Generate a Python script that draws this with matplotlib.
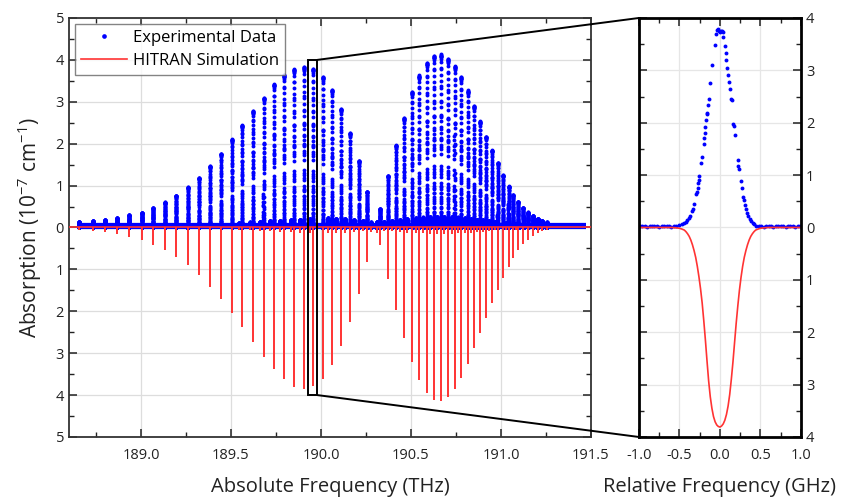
import matplotlib

matplotlib.use("Agg")
import matplotlib.pyplot as plt
import numpy as np
from matplotlib.patches import ConnectionPatch, Rectangle
from matplotlib.ticker import FuncFormatter, MultipleLocator

plt.rcParams["font.family"] = ["Open Sans", "DejaVu Sans"]
plt.rcParams["mathtext.default"] = "regular"

BLUE = "#0000ff"
RED = "#ff3333"
TXT = "#222222"

line_pos = [188.657, 188.732, 188.800, 188.868, 188.935, 189.004, 189.068, 189.132,
            189.196, 189.259, 189.322, 189.385, 189.446, 189.504, 189.563, 189.623,
            189.681, 189.738, 189.793, 189.850, 189.904, 189.957, 190.009, 190.061,
            190.111, 190.161, 190.209, 190.256, 190.328, 190.374, 190.418, 190.459,
            190.504, 190.546, 190.587, 190.628, 190.665, 190.704, 190.742, 190.778,
            190.815, 190.850, 190.883, 190.917, 190.949, 190.981, 191.011, 191.042,
            191.069, 191.097, 191.125, 191.152, 191.178, 191.203, 191.228, 191.253]
exp_peak = [0.13, 0.15, 0.18, 0.22, 0.29, 0.35, 0.46, 0.60,
            0.76, 0.96, 1.18, 1.46, 1.76, 2.10, 2.44, 2.78,
            3.10, 3.42, 3.64, 3.78, 3.83, 3.79, 3.60, 3.28,
            2.83, 2.25, 1.59, 0.85, 0.44, 1.23, 1.96, 2.61,
            3.24, 3.63, 3.93, 4.10, 4.13, 4.02, 3.85, 3.59,
            3.27, 2.90, 2.53, 2.17, 1.84, 1.54, 1.25, 0.98,
            0.77, 0.61, 0.47, 0.36, 0.28, 0.21, 0.16, 0.12]
sim_peak = [0.07, 0.09, 0.11, 0.16, 0.22, 0.30, 0.41, 0.54,
            0.70, 0.90, 1.14, 1.41, 1.71, 2.04, 2.38, 2.74,
            3.08, 3.38, 3.62, 3.80, 3.85, 3.79, 3.61, 3.29,
            2.83, 2.26, 1.58, 0.82, 0.42, 1.23, 1.98, 2.64,
            3.22, 3.65, 3.95, 4.12, 4.14, 4.05, 3.86, 3.59,
            3.26, 2.87, 2.52, 2.15, 1.81, 1.50, 1.20, 0.95,
            0.72, 0.54, 0.40, 0.29, 0.21, 0.13, 0.09, 0.06]

# weak hot-band lines sitting between the main ones
weak_pos = [189.544, 189.606, 189.661, 189.717, 189.772, 189.832, 189.883, 189.939,
            190.039, 190.083, 190.133, 190.183, 190.233, 190.276, 190.309, 190.350,
            190.394, 190.439, 190.478, 190.526, 190.567, 190.606, 190.644, 190.683,
            190.726, 190.761, 190.800, 190.833, 190.867, 190.900, 190.933, 190.967,
            191.028, 191.083]
weak_exp = [0.10, 0.12, 0.13, 0.15, 0.16, 0.18, 0.19, 0.20,
            0.22, 0.21, 0.20, 0.18, 0.16, 0.12, 0.14, 0.13,
            0.16, 0.18, 0.20, 0.22, 0.24, 0.25, 0.26, 0.26,
            0.25, 0.24, 0.22, 0.21, 0.19, 0.17, 0.15, 0.13,
            0.11, 0.09]
weak_sim = [0.06, 0.07, 0.08, 0.09, 0.10, 0.11, 0.12, 0.13,
            0.14, 0.13, 0.12, 0.10, 0.09, 0.10, 0.12, 0.08,
            0.09, 0.10, 0.12, 0.13, 0.14, 0.15, 0.16, 0.16,
            0.15, 0.14, 0.13, 0.12, 0.11, 0.10, 0.08, 0.07,
            0.06, 0.05]

exp_span = [188.645, 191.47]  # scanned range, baseline band
zoom_box = [189.93, 189.98]   # box drawn round the zoomed line

# ---- zoomed line (right panel), relative frequency in GHz
prof_x = [-0.99, -0.96, -0.93, -0.90, -0.87, -0.84, -0.81, -0.78, -0.75, -0.72,
          -0.69, -0.66, -0.63, -0.60, -0.57,
          -0.547, -0.506, -0.473, -0.444, -0.424, -0.403, -0.383, -0.366, -0.350, -0.337,
          -0.317, -0.292, -0.284, -0.276, -0.267, -0.259, -0.255, -0.230, -0.218, -0.202,
          -0.193, -0.189, -0.181, -0.173, -0.165, -0.156, -0.148, -0.140, -0.128, -0.095,
          -0.066, -0.045, -0.033, -0.021, -0.012, 0.000, 0.012, 0.025, 0.033, 0.041,
          0.058, 0.070, 0.078, 0.086, 0.103, 0.111, 0.123, 0.136, 0.144, 0.165,
          0.173, 0.185, 0.218, 0.226, 0.235, 0.255, 0.267, 0.288, 0.296, 0.305,
          0.317, 0.337, 0.350, 0.366, 0.387, 0.407, 0.424, 0.440, 0.481,
          0.51, 0.54, 0.57, 0.60, 0.63, 0.66, 0.69, 0.72, 0.75, 0.78,
          0.81, 0.84, 0.87, 0.90, 0.93, 0.96, 0.99]
prof_y = [0.02, 0.03, 0.02, 0.01, 0.03, 0.02, 0.02, 0.03, 0.01, 0.02,
          0.03, 0.02, 0.02, 0.01, 0.02,
          0.02, 0.04, 0.06, 0.08, 0.11, 0.14, 0.19, 0.21, 0.31, 0.35,
          0.45, 0.63, 0.67, 0.75, 0.85, 0.91, 0.98, 1.23, 1.35, 1.60,
          1.71, 1.81, 1.92, 2.06, 2.16, 2.19, 2.33, 2.45, 2.75, 3.10,
          3.49, 3.69, 3.78, 3.79, 3.76, 3.74, 3.76, 3.75, 3.73, 3.63,
          3.47, 3.34, 3.20, 3.05, 2.92, 2.78, 2.64, 2.46, 2.43, 1.97,
          1.94, 1.76, 1.28, 1.17, 1.11, 0.88, 0.75, 0.59, 0.53, 0.43,
          0.35, 0.27, 0.22, 0.17, 0.13, 0.08, 0.06, 0.03, 0.02,
          0.02, 0.01, 0.03, 0.02, 0.02, 0.01, 0.03, 0.02, 0.02, 0.03,
          0.01, 0.02, 0.03, 0.02, 0.01, 0.02, 0.02]

sim_x = [-1.0, -0.60, -0.55, -0.50, -0.47, -0.44, -0.42, -0.40, -0.38, -0.36,
         -0.34, -0.32, -0.30, -0.28, -0.26, -0.24, -0.22, -0.20, -0.18, -0.16,
         -0.14, -0.12, -0.10, -0.08, -0.06, -0.04, -0.02, 0.0, 0.02, 0.04,
         0.06, 0.08, 0.10, 0.12, 0.14, 0.16, 0.18, 0.20, 0.22, 0.24,
         0.26, 0.28, 0.30, 0.32, 0.34, 0.36, 0.38, 0.40, 0.42, 0.44,
         0.47, 0.50, 0.55, 0.60, 1.0]
sim_y = [0.0, 0.0, 0.005, 0.015, 0.03, 0.05, 0.08, 0.12, 0.17, 0.24,
         0.33, 0.44, 0.57, 0.74, 0.94, 1.17, 1.44, 1.78, 2.15, 2.55,
         2.93, 3.23, 3.45, 3.61, 3.71, 3.77, 3.80, 3.81, 3.79, 3.75,
         3.68, 3.57, 3.41, 3.19, 2.90, 2.57, 2.20, 1.83, 1.50, 1.20,
         0.95, 0.74, 0.57, 0.44, 0.33, 0.24, 0.17, 0.12, 0.08, 0.05,
         0.03, 0.015, 0.005, 0.0, 0.0]

# ------------------------------------------------------------------------------
fig = plt.figure(figsize=(8.41, 4.98), dpi=100)
ax = fig.add_axes([0.0820, 0.1225, 0.6207, 0.8414])
ax2 = fig.add_axes([0.7598, 0.1225, 0.1926, 0.8414])

# left panel: every line column uses the measured profile scaled to its peak
pos = np.array(line_pos + weak_pos)
pk_exp = np.array(exp_peak + weak_exp)
pk_sim = np.array(sim_peak + weak_sim)
px = np.array(prof_x)
py = np.array(prof_y)
col_x = (pos[:, None] + px[None, :] * 1e-3).ravel()
col_y = (pk_exp[:, None] * py[None, :] / py.max()).ravel()

ax.plot(exp_span, [0.035, 0.035], color=BLUE, lw=4.5, solid_capstyle="butt", zorder=2)
ax.plot(col_x, col_y, ls="none", marker="o", ms=2.8, mew=0, color=BLUE,
        label="Experimental Data", zorder=2)
ax.axhline(0, color=RED, lw=1.2, label="HITRAN Simulation", zorder=3)
ax.vlines(pos, 0, -pk_sim, color=RED, lw=1.4, zorder=3)

ax.add_patch(Rectangle((zoom_box[0], -4), zoom_box[1] - zoom_box[0], 8,
                       fill=False, ec="black", lw=1.4, zorder=5))

ax.set_xlim(188.6, 191.5)
ax.set_ylim(-5, 5)
ax.xaxis.set_major_locator(MultipleLocator(0.5))
ax.xaxis.set_minor_locator(MultipleLocator(0.25))
ax.yaxis.set_major_locator(MultipleLocator(1))
ax.yaxis.set_minor_locator(MultipleLocator(0.5))
ax.xaxis.set_major_formatter(FuncFormatter(lambda v, p: f"{v:.1f}"))
ax.yaxis.set_major_formatter(FuncFormatter(lambda v, p: f"{abs(v):g}"))
ax.grid(True, which="major", color="#dddddd", lw=0.9, zorder=0)
ax.set_axisbelow(True)
ax.set_xlabel("Absolute Frequency (THz)", fontsize=14.5, labelpad=10, color=TXT)
ax.set_ylabel("Absorption (10$^{-7}$ cm$^{-1}$)", fontsize=15, labelpad=8, color=TXT)
for s in ax.spines.values():
    s.set_linewidth(1.3)
    s.set_color("#333333")

leg = ax.legend(loc="upper left", fontsize=12, frameon=True, fancybox=False,
                handlelength=2.8, handletextpad=0.35, borderaxespad=0.35,
                markerscale=1.2, borderpad=0.35, labelspacing=0.45)
leg.get_frame().set_edgecolor("#666666")
leg.get_frame().set_linewidth(1.0)

# right panel: the zoomed line
ax2.plot(prof_x, prof_y, ls="none", marker="o", ms=2.8, mew=0, color=BLUE)
ax2.plot(sim_x, -np.array(sim_y), color=RED, lw=1.2)
ax2.set_xlim(-1, 1)
ax2.set_ylim(-4, 4)
ax2.xaxis.set_major_locator(MultipleLocator(0.5))
ax2.xaxis.set_minor_locator(MultipleLocator(0.25))
ax2.yaxis.set_major_locator(MultipleLocator(1))
ax2.yaxis.set_minor_locator(MultipleLocator(0.5))
ax2.xaxis.set_major_formatter(FuncFormatter(lambda v, p: f"{v:.1f}"))
ax2.yaxis.set_major_formatter(FuncFormatter(lambda v, p: f"{abs(v):g}"))
ax2.yaxis.tick_right()
ax2.grid(True, which="major", color="#e6e6e6", lw=0.9, zorder=0)
ax2.set_axisbelow(True)
ax2.set_xlabel("Relative Frequency (GHz)", fontsize=14.5, labelpad=10, color=TXT)
for s in ax2.spines.values():
    s.set_linewidth(2.0)
    s.set_color("black")

for a in (ax, ax2):
    a.tick_params(which="both", direction="in", top=True, bottom=True,
                  left=True, right=True, labelsize=10.5, colors=TXT)
    a.tick_params(which="major", length=6, width=1.1)
    a.tick_params(which="minor", length=3.5, width=1.0)
    a.tick_params(axis="x", pad=8)
ax2.tick_params(labelleft=False, labelright=True)

# connector lines from the box to the zoom panel
for ya, yb in ((4, 1), (-4, 0)):
    con = ConnectionPatch(xyA=(zoom_box[1], ya), coordsA=ax.transData,
                          xyB=(0, yb), coordsB=ax2.transAxes,
                          color="black", lw=1.4, zorder=6)
    fig.add_artist(con)

fig.savefig("out.png", dpi=100)
